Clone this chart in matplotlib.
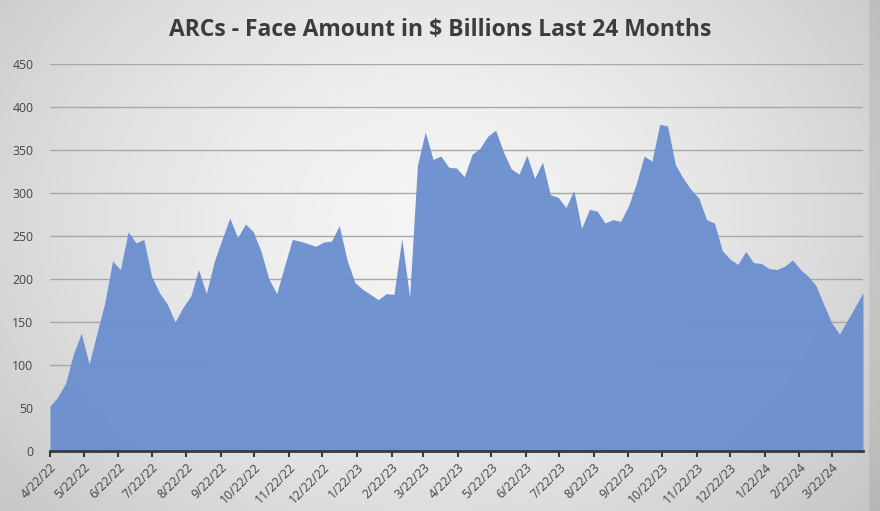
import numpy as np
import pandas as pd
import matplotlib
matplotlib.use("Agg")
import matplotlib.pyplot as plt
import matplotlib.dates as mdates

title = "ARCs - Face Amount in $ Billions Last 24 Months"
start_date = "2022-04-22"
values = [52, 63, 79, 113, 137, 101, 137, 172, 221, 211,
          255, 242, 246, 203, 184, 171, 150, 167, 180, 211,
          183, 220, 246, 271, 248, 264, 255, 232, 200, 183,
          215, 246, 244, 241, 238, 243, 244, 262, 222, 196,
          188, 182, 176, 183, 182, 247, 179, 332, 371, 339,
          343, 330, 329, 319, 345, 352, 366, 373, 348, 328,
          322, 344, 317, 336, 298, 295, 283, 303, 259, 281,
          279, 265, 269, 267, 285, 311, 343, 337, 380, 378,
          333, 317, 304, 294, 269, 265, 233, 223, 217, 232,
          219, 218, 212, 211, 215, 222, 211, 203, 192, 170,
          149, 136, 152, 168, 184]
tick_labels = ["4/22/22", "5/22/22", "6/22/22", "7/22/22", "8/22/22", "9/22/22",
               "10/22/22", "11/22/22", "12/22/22", "1/22/23", "2/22/23", "3/22/23",
               "4/22/23", "5/22/23", "6/22/23", "7/22/23", "8/22/23", "9/22/23",
               "10/22/23", "11/22/23", "12/22/23", "1/22/24", "2/22/24", "3/22/24"]
y_ticks = [0, 50, 100, 150, 200, 250, 300, 350, 400, 450]

dates = pd.date_range(start_date, periods=len(values), freq="7D")
tick_dates = pd.to_datetime(tick_labels, format="%m/%d/%y")

W, H = 880, 511
fig = plt.figure(figsize=(W / 100, H / 100), dpi=100)

# background radial gradient
bg = fig.add_axes([0, 0, 1, 1], zorder=-10)
yy, xx = np.mgrid[0:H, 0:W]
r = np.sqrt(((xx - 430) / 580.0) ** 2 + ((yy - 220) / 460.0) ** 2)
shade = np.clip(0.96 - 0.19 * r ** 1.6, 0.76, 0.96)
img = np.dstack([shade, shade, shade])
img[:, 868:, :] *= 0.93
bg.imshow(img, aspect="auto", extent=[0, 1, 0, 1], origin="upper")
bg.set_axis_off()

ax = fig.add_axes([50 / W, 1 - 451 / H, (863 - 50) / W, (451 - 64) / H])
ax.patch.set_alpha(0)
ax.fill_between(dates, values, 0, color="#6a8fcf", alpha=0.95, linewidth=0, zorder=2)
ax.set_ylim(0, 450)
ax.set_xlim(dates[0], dates[-1])
ax.set_yticks(y_ticks)
ax.yaxis.grid(True, color="#a8a8a8", linewidth=1.0, zorder=1)
ax.set_axisbelow(True)
for s in ["top", "right", "left"]:
    ax.spines[s].set_visible(False)
ax.spines["bottom"].set_color("#3a3a3a")
ax.spines["bottom"].set_linewidth(2.0)
ax.spines["bottom"].set_zorder(5)
ax.set_xticks(tick_dates)
ax.set_xticklabels(tick_labels, rotation=45, ha="right", rotation_mode="anchor",
                   fontsize=8.8, color="#454545", fontfamily="Open Sans")
ax.tick_params(axis="x", length=4, width=1.5, color="#3a3a3a", pad=3)
ax.tick_params(axis="y", length=0, pad=12, labelsize=8.8, labelcolor="#454545")
for t in ax.get_yticklabels():
    t.set_fontfamily("Open Sans")

fig.text(0.5, 1 - 30 / H, title, ha="center", va="center", fontsize=16.5,
         fontweight="bold", color="#3c3c3c", fontfamily="Open Sans")

fig.savefig("out.png", dpi=100)
